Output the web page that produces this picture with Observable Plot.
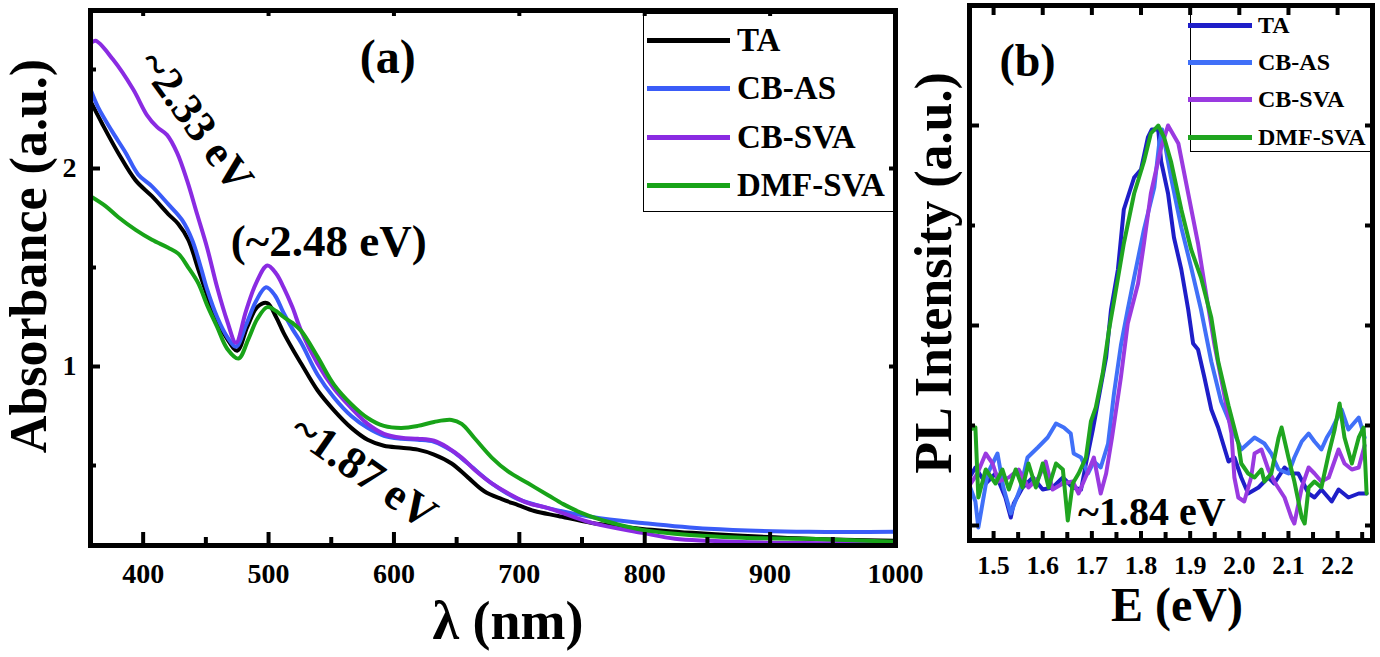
<!DOCTYPE html>
<html><head><meta charset="utf-8">
<script src="https://cdn.jsdelivr.net/npm/d3@7"></script>
<script src="https://cdn.jsdelivr.net/npm/@observablehq/plot@0.6"></script>
<style>
body{margin:0;background:#fff;}
#wrap{position:relative;width:1380px;height:657px;overflow:hidden;background:#fff;
  font-family:"Liberation Serif","Times New Roman",serif;font-weight:bold;color:#000;}
#wrap svg{position:absolute;top:0;}
.box{position:absolute;border:1.5px solid #000;box-sizing:border-box;}
.sw{position:absolute;height:5px;}
.lt{position:absolute;white-space:nowrap;}
</style></head>
<body><div id="wrap"></div>
<script>
// ---------- data: panel (a) absorbance [wavelength nm, absorbance] ----------
const seriesNames = ["TA", "CB-AS", "CB-SVA", "DMF-SVA"];
const absTA = [[358,2.34],[367,2.23],[380,2.08],[394,1.94],[407,1.86],[420,1.77],[428,1.72],[436,1.64],[444,1.49],[451,1.36],[459,1.23],[467,1.14],[475,1.08],[483,1.20],[491,1.30],[499,1.32],[506,1.25],[512,1.17],[519,1.09],[526,1.015],[539,0.88],[552,0.78],[566,0.69],[579,0.63],[592,0.60],[606,0.59],[619,0.58],[632,0.555],[646,0.51],[659,0.44],[672,0.37],[686,0.33],[699,0.30],[712,0.27],[731,0.245],[758,0.21],[798,0.18],[838,0.16],[878,0.145],[931,0.13],[1000,0.12]];
const absCBAS = [[358,2.40],[364,2.31],[375,2.19],[386,2.08],[396,1.97],[407,1.91],[420,1.82],[431,1.74],[439,1.64],[446,1.50],[451,1.39],[459,1.25],[467,1.15],[474,1.10],[482,1.21],[490,1.33],[498,1.40],[505,1.36],[512,1.27],[519,1.19],[526,1.12],[539,0.96],[552,0.845],[566,0.75],[579,0.69],[592,0.65],[606,0.635],[619,0.63],[632,0.62],[646,0.575],[659,0.51],[678,0.41],[699,0.33],[723,0.285],[758,0.24],[798,0.21],[851,0.18],[931,0.165],[1000,0.165]];
const absCBSVA = [[358,2.63],[362,2.645],[376,2.55],[392,2.40],[403,2.27],[411,2.21],[419,2.17],[427,2.08],[435,1.94],[443,1.77],[451,1.60],[459,1.40],[467,1.23],[474,1.12],[482,1.28],[490,1.42],[499,1.51],[506,1.47],[512,1.40],[519,1.30],[526,1.18],[539,1.015],[552,0.89],[566,0.79],[579,0.71],[592,0.66],[606,0.64],[619,0.635],[632,0.625],[643,0.59],[654,0.54],[664,0.48],[678,0.41],[691,0.36],[707,0.31],[723,0.285],[758,0.21],[798,0.16],[824,0.13],[851,0.12],[904,0.11],[1000,0.105]];
const absDMF = [[358,1.86],[370,1.81],[380,1.755],[394,1.69],[407,1.64],[420,1.60],[428,1.57],[436,1.50],[444,1.42],[451,1.31],[459,1.20],[467,1.09],[476,1.04],[484,1.14],[491,1.24],[499,1.30],[506,1.28],[512,1.25],[519,1.22],[526,1.18],[539,1.05],[552,0.91],[566,0.81],[579,0.74],[592,0.70],[606,0.69],[619,0.70],[632,0.72],[646,0.73],[654,0.71],[664,0.64],[678,0.54],[691,0.47],[707,0.41],[723,0.35],[735,0.305],[748,0.265],[763,0.23],[780,0.2],[798,0.175],[824,0.155],[878,0.135],[931,0.13],[1000,0.115]];
const xTicksA = [400,500,600,700,800,900,1000];
const xMinorA = [450,550,650,750,850,950];
const yTicksA = [1,2];
const yMinorA = [0.5,1.5,2.5];

// ---------- data: panel (b) PL [energy eV, normalized intensity] ----------
const plTA = [[1.451,0.12],[1.463,0.145],[1.484,0.105],[1.504,0.13],[1.524,0.07],[1.535,0.02],[1.541,0.055],[1.559,0.095],[1.580,0.12],[1.600,0.09],[1.620,0.095],[1.641,0.12],[1.661,0.095],[1.678,0.09],[1.688,0.155],[1.702,0.24],[1.714,0.32],[1.729,0.42],[1.739,0.54],[1.753,0.64],[1.765,0.79],[1.786,0.87],[1.800,0.89],[1.814,0.97],[1.822,0.99],[1.835,0.99],[1.841,0.91],[1.855,0.83],[1.867,0.72],[1.882,0.64],[1.896,0.54],[1.906,0.455],[1.916,0.44],[1.929,0.37],[1.943,0.29],[1.957,0.245],[1.978,0.16],[1.990,0.17],[2.004,0.12],[2.018,0.08],[2.039,0.095],[2.059,0.12],[2.071,0.105],[2.092,0.145],[2.106,0.13],[2.120,0.13],[2.141,0.08],[2.153,0.07],[2.167,0.09],[2.188,0.06],[2.202,0.09],[2.222,0.07],[2.243,0.08],[2.259,0.08]];
const plCBAS = [[1.451,0.10],[1.463,0.06],[1.469,-0.005],[1.488,0.13],[1.508,0.18],[1.520,0.095],[1.535,0.03],[1.555,0.095],[1.569,0.17],[1.590,0.195],[1.610,0.22],[1.627,0.255],[1.643,0.245],[1.657,0.23],[1.663,0.18],[1.678,0.17],[1.692,0.13],[1.704,0.16],[1.718,0.145],[1.733,0.205],[1.745,0.33],[1.759,0.45],[1.773,0.54],[1.786,0.62],[1.806,0.74],[1.827,0.845],[1.837,0.955],[1.843,0.99],[1.861,0.87],[1.882,0.745],[1.902,0.645],[1.922,0.54],[1.943,0.41],[1.963,0.31],[1.990,0.23],[2.004,0.19],[2.031,0.22],[2.051,0.205],[2.065,0.18],[2.080,0.14],[2.100,0.13],[2.112,0.17],[2.127,0.21],[2.141,0.23],[2.153,0.21],[2.167,0.19],[2.178,0.22],[2.188,0.24],[2.208,0.29],[2.222,0.24],[2.243,0.27],[2.255,0.22]];
const plCBSVA = [[1.451,0.10],[1.467,0.13],[1.484,0.18],[1.498,0.155],[1.510,0.11],[1.531,0.12],[1.551,0.14],[1.571,0.095],[1.592,0.12],[1.606,0.16],[1.620,0.09],[1.641,0.105],[1.661,0.11],[1.673,0.08],[1.694,0.14],[1.704,0.17],[1.718,0.08],[1.729,0.13],[1.741,0.22],[1.759,0.37],[1.773,0.505],[1.794,0.605],[1.806,0.705],[1.820,0.83],[1.841,0.945],[1.855,1.0],[1.876,0.955],[1.896,0.83],[1.916,0.705],[1.929,0.605],[1.949,0.455],[1.969,0.33],[1.984,0.23],[1.990,0.12],[1.998,0.07],[2.010,0.06],[2.024,0.12],[2.031,0.18],[2.045,0.19],[2.059,0.14],[2.071,0.11],[2.092,0.07],[2.106,0.02],[2.112,0.005],[2.127,0.095],[2.141,0.145],[2.153,0.13],[2.167,0.11],[2.182,0.12],[2.202,0.19],[2.214,0.155],[2.229,0.14],[2.243,0.145],[2.255,0.2]];
const plDMF = [[1.451,0.24],[1.463,0.245],[1.469,0.07],[1.484,0.14],[1.504,0.105],[1.518,0.14],[1.531,0.09],[1.545,0.14],[1.559,0.095],[1.571,0.155],[1.586,0.095],[1.600,0.155],[1.612,0.095],[1.627,0.155],[1.641,0.14],[1.651,0.0125],[1.661,0.105],[1.673,0.13],[1.688,0.17],[1.698,0.26],[1.708,0.295],[1.722,0.38],[1.735,0.49],[1.745,0.56],[1.765,0.705],[1.786,0.83],[1.806,0.91],[1.820,0.98],[1.835,1.0],[1.847,0.97],[1.861,0.91],[1.882,0.79],[1.902,0.69],[1.922,0.62],[1.943,0.52],[1.957,0.41],[1.978,0.30],[1.998,0.205],[2.004,0.155],[2.018,0.13],[2.031,0.12],[2.045,0.14],[2.051,0.11],[2.065,0.13],[2.080,0.22],[2.086,0.245],[2.100,0.17],[2.112,0.11],[2.127,0.02],[2.133,0.005],[2.141,0.095],[2.153,0.11],[2.167,0.095],[2.182,0.18],[2.194,0.24],[2.204,0.305],[2.214,0.22],[2.229,0.155],[2.243,0.22],[2.253,0.245],[2.259,0.08]];
const xTicksB = [1.5,1.6,1.7,1.8,1.9,2.0,2.1,2.2];
const xMinorB = [1.45,1.55,1.65,1.75,1.85,1.95,2.05,2.15,2.25];
const yTicksB = [0,0.5,1];
const yMinorB = [0.25,0.75];

// ---------- text ----------
const labelsA = {x: "λ (nm)", y: "Absorbance (a.u.)"};
const labelsB = {x: "E (eV)", y: "PL Intensity (a.u.)"};
const notesA = ["(a)", "~2.33 eV", "(~2.48 eV)", "~1.87 eV"];
const notesB = ["(b)", "~1.84 eV"];

// ---------- styles ----------
const colorsA = ["#000000", "#3a5cf8", "#8a2be2", "#18a318"];
const colorsB = ["#1e1ec8", "#4070f8", "#9a3ae0", "#20a520"];
const serif = "'Liberation Serif','Times New Roman',serif";

const wrap = document.getElementById("wrap");
const bold = {fontWeight: "bold", fill: "#000"};
const centered = {textAnchor: "middle", lineAnchor: "middle"};

// ----- panel (a) -----
const A = {width: 900, height: 657, ml: 90, mr: 5, mt: 10, mb: 112};
const aH = A.height - A.mt - A.mb, aW = A.width - A.ml - A.mr;
const seriesA = [absTA, absCBAS, absCBSVA, absDMF];
const plotA = Plot.plot({
  width: A.width, height: A.height,
  marginLeft: A.ml, marginRight: A.mr, marginTop: A.mt, marginBottom: A.mb,
  style: {fontFamily: serif, background: "transparent", overflow: "visible"},
  x: {domain: [358, 1000]},
  y: {domain: [0.096, 2.798]},
  marks: [
    ...seriesA.map((d, i) => Plot.line(d, {x: d => d[0], y: d => d[1], stroke: colorsA[i], strokeWidth: 4, curve: "catmull-rom", clip: true})),
    Plot.frame({stroke: "#000", strokeWidth: 5}),
    Plot.tickX(xTicksA, {x: d => d, insetTop: aH - 13, strokeWidth: 4, stroke: "#000"}),
    Plot.tickX(xMinorA, {x: d => d, insetTop: aH - 8, strokeWidth: 4, stroke: "#000"}),
    Plot.tickX(xTicksA, {x: d => d, insetBottom: aH - 6, strokeWidth: 4, stroke: "#000"}),
    Plot.tickY(yTicksA, {y: d => d, insetRight: aW - 10, strokeWidth: 4, stroke: "#000"}),
    Plot.tickY(yMinorA, {y: d => d, insetRight: aW - 6, strokeWidth: 4, stroke: "#000"}),
    Plot.tickY(yTicksA, {y: d => d, insetLeft: aW - 6, strokeWidth: 4, stroke: "#000"}),
    Plot.axisX(xTicksA, {anchor: "bottom", tickSize: 0, tickPadding: 18, fontSize: 28, fontWeight: "bold", label: null, tickFormat: d => String(d)}),
    Plot.axisY(yTicksA, {anchor: "left", tickSize: 0, tickPadding: 14, fontSize: 28, fontWeight: "bold", label: null, tickFormat: d => String(d)}),
    Plot.text([labelsA.y], {frameAnchor: "left", rotate: -90, dx: -61, dy: -22, fontSize: 52, ...centered, ...bold}),
    Plot.text([labelsA.x], {frameAnchor: "bottom", dx: 15, dy: 76, fontSize: 54, ...centered, ...bold}),
    Plot.text([notesA[0]], {x: 595, y: 2.56, fontSize: 48, ...bold}),
    Plot.text([notesA[1]], {x: 442, y: 2.24, rotate: 54, fontSize: 44, ...bold}),
    Plot.text([notesA[2]], {x: 548, y: 1.63, fontSize: 45, ...bold}),
    Plot.text([notesA[3]], {x: 576, y: 0.47, rotate: 35, fontSize: 45, ...bold})
  ]
});
plotA.style.left = "0px";
wrap.appendChild(plotA);

// ----- panel (b) -----
const B = {width: 480, height: 657, ml: 69, mr: 8, mt: 5, mb: 117};
const bH = B.height - B.mt - B.mb, bW = B.width - B.ml - B.mr;
const seriesB = [plTA, plCBAS, plCBSVA, plDMF];
const plotB = Plot.plot({
  width: B.width, height: B.height,
  marginLeft: B.ml, marginRight: B.mr, marginTop: B.mt, marginBottom: B.mb,
  style: {fontFamily: serif, background: "transparent", overflow: "visible"},
  x: {domain: [1.451, 2.271]},
  y: {domain: [-0.0375, 1.3], axis: null},
  marks: [
    ...seriesB.map((d, i) => Plot.line(d, {x: d => d[0], y: d => d[1], stroke: colorsB[i], strokeWidth: 4, clip: true})),
    Plot.frame({stroke: "#000", strokeWidth: 5}),
    Plot.tickX(xTicksB, {x: d => d, insetTop: bH - 9, strokeWidth: 4, stroke: "#000"}),
    Plot.tickX(xMinorB, {x: d => d, insetTop: bH - 8, strokeWidth: 4, stroke: "#000"}),
    Plot.tickX(xTicksB, {x: d => d, insetBottom: bH - 10, strokeWidth: 4, stroke: "#000"}),
    Plot.tickY(yTicksB, {y: d => d, insetRight: bW - 10, strokeWidth: 4, stroke: "#000"}),
    Plot.tickY(yMinorB, {y: d => d, insetRight: bW - 6, strokeWidth: 4, stroke: "#000"}),
    Plot.tickY([...yTicksB, ...yMinorB], {y: d => d, insetLeft: bW - 7, strokeWidth: 4, stroke: "#000"}),
    Plot.axisX(xTicksB, {anchor: "bottom", tickSize: 0, tickPadding: 15, fontSize: 26, fontWeight: "bold", label: null, tickFormat: d => d.toFixed(1)}),
    Plot.text([labelsB.y], {frameAnchor: "left", rotate: -90, dx: -35, dy: 0, fontSize: 52, ...centered, ...bold}),
    Plot.text([labelsB.x], {frameAnchor: "bottom", dx: 6, dy: 65, fontSize: 48, ...centered, ...bold}),
    Plot.text([notesB[0]], {x: 1.569, y: 1.16, fontSize: 46, ...bold}),
    Plot.text([notesB[1]], {x: 1.822, y: 0.033, fontSize: 40, ...bold})
  ]
});
plotB.style.left = "900px";
wrap.appendChild(plotB);

// ----- legends (HTML overlays) -----
function legend(box, rows, lineX, lineW, textX, fontSize, colors) {
  const b = document.createElement("div");
  b.className = "box";
  Object.assign(b.style, {left: box[0] + "px", top: box[1] + "px", width: box[2] + "px", height: box[3] + "px"});
  wrap.appendChild(b);
  seriesNames.forEach((name, i) => {
    const cy = rows[i];
    const s = document.createElement("div");
    s.className = "sw";
    Object.assign(s.style, {left: lineX + "px", top: (cy - 2.5) + "px", width: lineW + "px", background: colors[i]});
    wrap.appendChild(s);
    const t = document.createElement("div");
    t.className = "lt";
    t.textContent = name;
    Object.assign(t.style, {left: textX + "px", top: (cy - 20) + "px", lineHeight: "40px", fontSize: fontSize + "px"});
    wrap.appendChild(t);
  });
}
legend([643, 13, 251, 199], [40, 88, 137, 185], 647, 83, 737, 33, colorsA);
legend([1190, 5, 182, 147], [25, 62, 99, 137], 1188, 64, 1258, 24, colorsB);
</script></body></html>
